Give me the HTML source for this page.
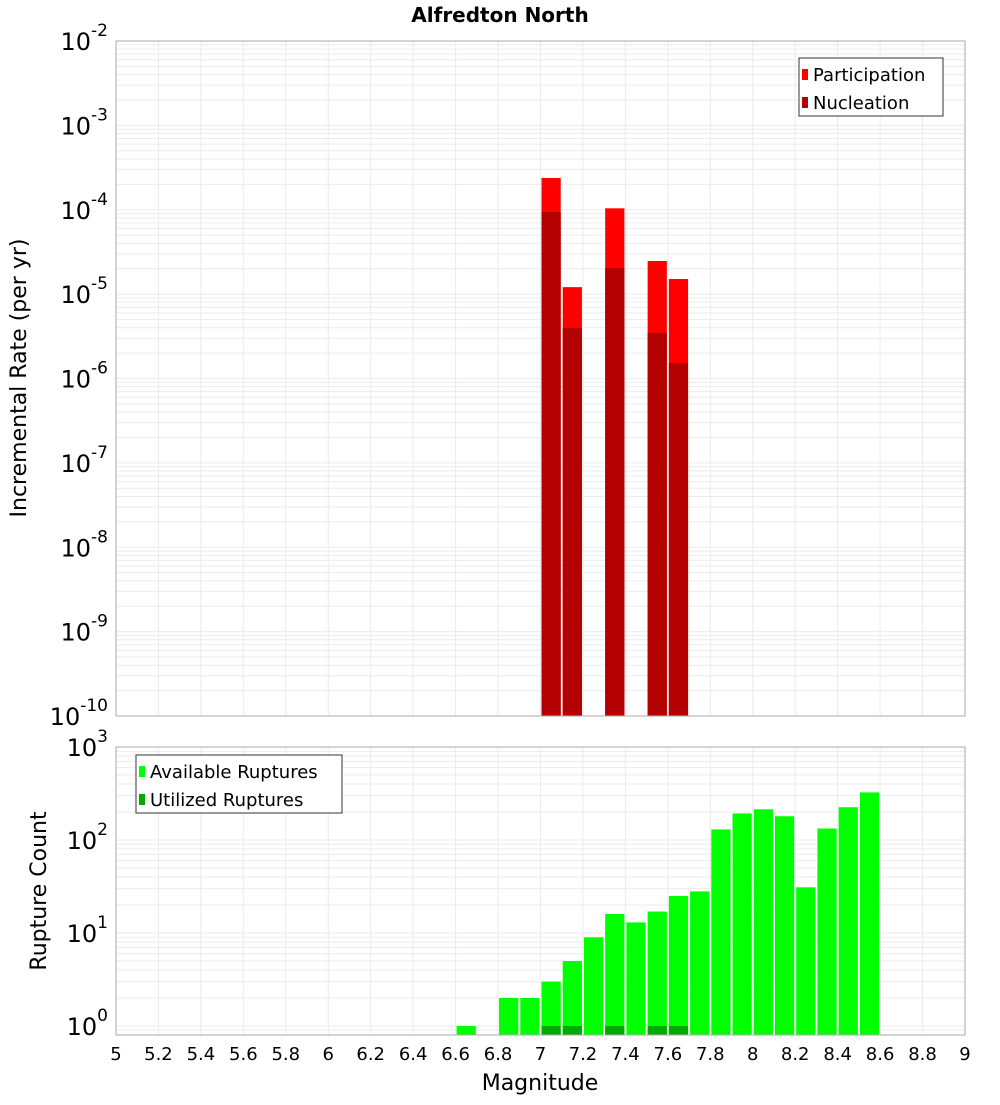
<!DOCTYPE html>
<html><head><meta charset="utf-8"><style>
body{margin:0;background:#fff;width:1000px;height:1100px;overflow:hidden;font-family:"Liberation Sans","DejaVu Sans",sans-serif}
</style></head><body>
<svg id="chart" width="1000" height="1100" xmlns="http://www.w3.org/2000/svg" style="font-family:'DejaVu Sans','Liberation Sans',sans-serif">
<text x="500" y="22" text-anchor="middle" font-size="20" font-weight="bold">Alfredton North</text>
<g id="top"></g><g id="bot"></g>
<text transform="translate(26,378) rotate(-90)" text-anchor="middle" font-size="22">Incremental Rate (per yr)</text>
<text transform="translate(46,891) rotate(-90)" text-anchor="middle" font-size="22">Rupture Count</text>
<text x="540" y="1090" text-anchor="middle" font-size="22">Magnitude</text>
</svg>
<script>
const topBins=[7.0,7.1,7.3,7.5,7.6];
const participation=[2.38e-4,1.21e-5,1.04e-4,2.47e-5,1.51e-5];
const nucleation=[9.4e-5,3.96e-6,2.03e-5,3.46e-6,1.53e-6];
const botBins=[6.6,6.8,6.9,7.0,7.1,7.2,7.3,7.4,7.5,7.6,7.7,7.8,7.9,8.0,8.1,8.2,8.3,8.4,8.5];
const available=[1,2,2,3,5,9,16,13,17,25,28,130,193,214,180,31,133,225,325];
const utilBins=[7.0,7.1,7.3,7.5,7.6];
const utilized=[1,1,1,1,1];
const xTicks=[5,5.2,5.4,5.6,5.8,6,6.2,6.4,6.6,6.8,7,7.2,7.4,7.6,7.8,8,8.2,8.4,8.6,8.8,9];
const topExps=[-2,-3,-4,-5,-6,-7,-8,-9,-10];
const botExps=[3,2,1,0];
const NS='http://www.w3.org/2000/svg';
const L=116,R=965;
const x=m=>L+(m-5)*(R-L)/4;
const yT=v=>41+(-2-Math.log10(v))*84.375;
const yB=v=>747+(3-Math.log10(v))*93;
function el(p,t,a){const e=document.createElementNS(NS,t);for(const k in a)e.setAttribute(k,a[k]);p.appendChild(e);return e;}
function panel(g,top,bot,y,dmin,dmax,name){
  const bg=el(g,'rect',{x:L,y:top,width:R-L,height:bot-top,fill:'#fff'});
  
  
  for(let d=dmin-1;d<=dmax;d++)for(let k=1;k<10;k++){const yy=y(k*Math.pow(10,d));if(yy<top||yy>bot)continue;
    const ln=el(g,'line',{x1:L,x2:R,y1:yy,y2:yy,stroke:'#ebebeb','stroke-width':1});
    
    }
  xTicks.forEach(t=>{const ln=el(g,'line',{x1:x(t),x2:x(t),y1:top,y2:bot,stroke:'#ebebeb','stroke-width':1});
    
    });
}
function frame(g,top,bot,name){
  const f=el(g,'rect',{x:L,y:top,width:R-L,height:bot-top,fill:'none',stroke:'#aaa','stroke-width':1});
  
  
}
function ylab(g,yy,e,name){
  const t=el(g,'text',{x:108,y:yy+9,'text-anchor':'end','font-size':24});
  
  
  t.textContent='10';
  const s=el(t,'tspan',{dy:-14,'font-size':17});s.textContent=e;
}
function legend(g,lx,ly,w,items,name){
  const r=el(g,'rect',{x:lx,y:ly,width:w,height:58,fill:'#fff',stroke:'#333','stroke-width':1});
  
  
  items.forEach((it,i)=>{
    const sw=el(g,'rect',{x:lx+3,y:ly+11+i*28,width:6,height:11,fill:it[1]});
    
    
    const t=el(g,'text',{x:lx+14,y:ly+23+i*28,'font-size':18});
    
    
    t.textContent=it[0];
  });
}
const gT=document.getElementById('top'),gB=document.getElementById('bot');
panel(gT,41,716,yT,-10,-2,'top');
const w=(x(5.1)-x(5))-2;
topBins.forEach((b,i)=>{
  const p=el(gT,'rect',{x:x(b)+1,y:yT(participation[i]),width:w,height:716-yT(participation[i]),fill:'#ff0000'});
  
  
  const n=el(gT,'rect',{x:x(b)+1,y:yT(nucleation[i]),width:w,height:716-yT(nucleation[i]),fill:'#b30000'});
  
  
});
frame(gT,41,716,'top');
topExps.forEach(e=>ylab(gT,yT(Math.pow(10,e)),e,'top-y-tick-label'));
legend(gT,799,58,144,[['Participation','#ff0000'],['Nucleation','#b30000']],'top-legend');
panel(gB,747,1035,yB,-1,3,'bottom');
botBins.forEach((b,i)=>{
  const r=el(gB,'rect',{x:x(b)+1,y:yB(available[i]),width:w,height:1035-yB(available[i]),fill:'#00ff00'});
  
  
});
utilBins.forEach((b,i)=>{
  const r=el(gB,'rect',{x:x(b)+1,y:yB(utilized[i]),width:w,height:1035-yB(utilized[i]),fill:'#00aa00'});
  
  
});
frame(gB,747,1035,'bottom');
botExps.forEach(e=>ylab(gB,yB(Math.pow(10,e)),e,'bottom-y-tick-label'));
legend(gB,136,755,206,[['Available Ruptures','#00ff00'],['Utilized Ruptures','#00aa00']],'bottom-legend');
xTicks.forEach(t=>{
  const tx=el(gB,'text',{x:x(t),y:1060,'text-anchor':'middle','font-size':18});
  
  
  tx.textContent=String(t);
});
</script>
</body></html>
